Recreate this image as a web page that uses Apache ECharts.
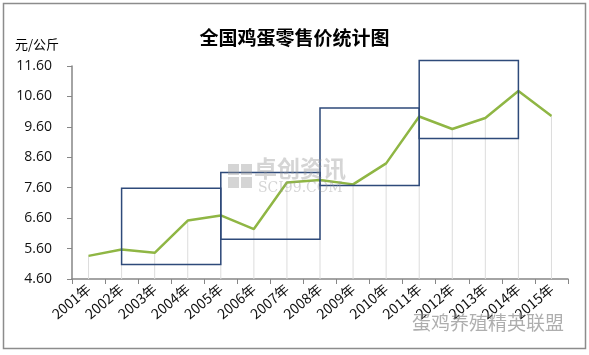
<!DOCTYPE html>
<html>
<head>
<meta charset="utf-8">
<script src="https://cdn.jsdelivr.net/npm/echarts@6/dist/echarts.min.js"></script>
<style>
  html, body { margin: 0; padding: 0; background: #fff; }
  #egg-chart-div { width: 589px; height: 355px; }
</style>
</head>
<body>
<div id="egg-chart-div"></div>
<script>
// 年份 / 零售价 (元/公斤)
const egg_years = ['2001年', '2002年', '2003年', '2004年', '2005年', '2006年', '2007年', '2008年',
    '2009年', '2010年', '2011年', '2012年', '2013年', '2014年', '2015年'];
const egg_prices = [5.36, 5.57, 5.46, 6.52, 6.69, 6.24, 7.77, 7.85, 7.71, 8.40, 9.94, 9.53, 9.89, 10.78, 9.96];

// 周期框: 起止年份序号与上下价格
const egg_boxFrom = [1, 4, 7, 10];
const egg_boxTo = [4, 7, 10, 13];
const egg_boxLow = [5.08, 5.91, 7.67, 9.22];
const egg_boxHigh = [7.58, 8.10, 10.22, 11.78];

// y 轴刻度
const egg_yMin = 4.6;
const egg_yMax = 11.6;
const egg_yStep = 1;

var egg_chartDom = document.getElementById('egg-chart-div');
var egg_myChart = echarts.init(egg_chartDom);

var egg_boxData = egg_boxFrom.map(function (f, i) {
    return [f, egg_boxTo[i], egg_boxLow[i], egg_boxHigh[i]];
});

var egg_wm = 'rgba(150,150,150,0.4)';

var egg_option = {
    animation: false,
    backgroundColor: '#fff',
    title: {
        text: '全国鸡蛋零售价统计图',
        left: 'center',
        top: 23,
        textStyle: {
            fontFamily: 'Noto Sans CJK SC',
            fontSize: 19,
            fontWeight: 'bold',
            color: '#000'
        }
    },
    grid: {
        left: 72,
        right: 21,
        top: 66,
        bottom: 76
    },
    xAxis: {
        type: 'category',
        data: egg_years,
        axisLine: { lineStyle: { color: '#868686', width: 1.5 } },
        axisTick: { show: true, length: 5, lineStyle: { color: '#868686' } },
        axisLabel: {
            rotate: 40,
            margin: 8,
            interval: 0,
            color: '#111',
            fontSize: 14,
            fontFamily: 'Noto Sans CJK SC'
        },
        splitLine: { show: false }
    },
    yAxis: {
        type: 'value',
        min: egg_yMin,
        max: egg_yMax,
        interval: egg_yStep,
        axisLine: { show: true, lineStyle: { color: '#868686', width: 1.5 } },
        axisTick: { show: true, length: 5, lineStyle: { color: '#868686' } },
        axisLabel: {
            margin: 20,
            color: '#111',
            fontSize: 14,
            fontFamily: 'Open Sans',
            formatter: function (v) { return v.toFixed(2); }
        },
        splitLine: { show: false }
    },
    graphic: [
        {
            type: 'rect',
            shape: { x: 3.5, y: 3.5, width: 582, height: 345 },
            style: { fill: 'none', stroke: '#8c8c8c', lineWidth: 1.5 },
            silent: true
        },
        {
            type: 'text',
            left: 15,
            top: 38,
            style: { text: '元/公斤', font: '13px "Noto Sans CJK SC"', fill: '#000' }
        },
        // 水印 logo
        { type: 'rect', z: 100, shape: { x: 228, y: 164, width: 11, height: 11 }, style: { fill: egg_wm } },
        { type: 'rect', z: 100, shape: { x: 241, y: 164, width: 11, height: 11 }, style: { fill: egg_wm } },
        { type: 'rect', z: 100, shape: { x: 228, y: 177, width: 11, height: 11 }, style: { fill: egg_wm } },
        { type: 'rect', z: 100, shape: { x: 241, y: 177, width: 11, height: 11 }, style: { fill: egg_wm } },
        {
            type: 'text',
            left: 254,
            top: 157,
            z: 100,
            style: { text: '卓创资讯', font: 'bold 23px "Noto Sans CJK SC"', fill: egg_wm }
        },
        {
            type: 'text',
            left: 258,
            top: 181,
            z: 100,
            style: { text: 'SCI99.COM', font: '14px "DejaVu Serif"', fill: egg_wm }
        },
        {
            type: 'text',
            left: 412,
            top: 313,
            z: 100,
            style: { text: '蛋鸡养殖精英联盟', font: '19px "Noto Sans CJK SC"', fill: 'rgba(120,120,120,0.6)' }
        }
    ],
    series: [
        {
            name: 'drop',
            type: 'bar',
            barWidth: 1,
            data: egg_prices,
            itemStyle: { color: '#dcdcdc' },
            silent: true,
            z: 1
        },
        {
            name: '零售价',
            type: 'line',
            data: egg_prices,
            symbol: 'none',
            lineStyle: { color: '#8fb644', width: 2.5 },
            z: 3
        },
        {
            name: 'box',
            type: 'custom',
            data: egg_boxData,
            encode: { x: [0, 1], y: [2, 3] },
            clip: false,
            z: 4,
            renderItem: function (params, api) {
                var p1 = api.coord([api.value(0), api.value(3)]);
                var p2 = api.coord([api.value(1), api.value(2)]);
                return {
                    type: 'rect',
                    shape: { x: p1[0], y: p1[1], width: p2[0] - p1[0], height: p2[1] - p1[1] },
                    style: { fill: 'none', stroke: '#2e4a7a', lineWidth: 1.5 }
                };
            }
        }
    ]
};

if (egg_option && typeof egg_option === 'object') {
    egg_myChart.setOption(egg_option);
}
</script>
</body>
</html>
